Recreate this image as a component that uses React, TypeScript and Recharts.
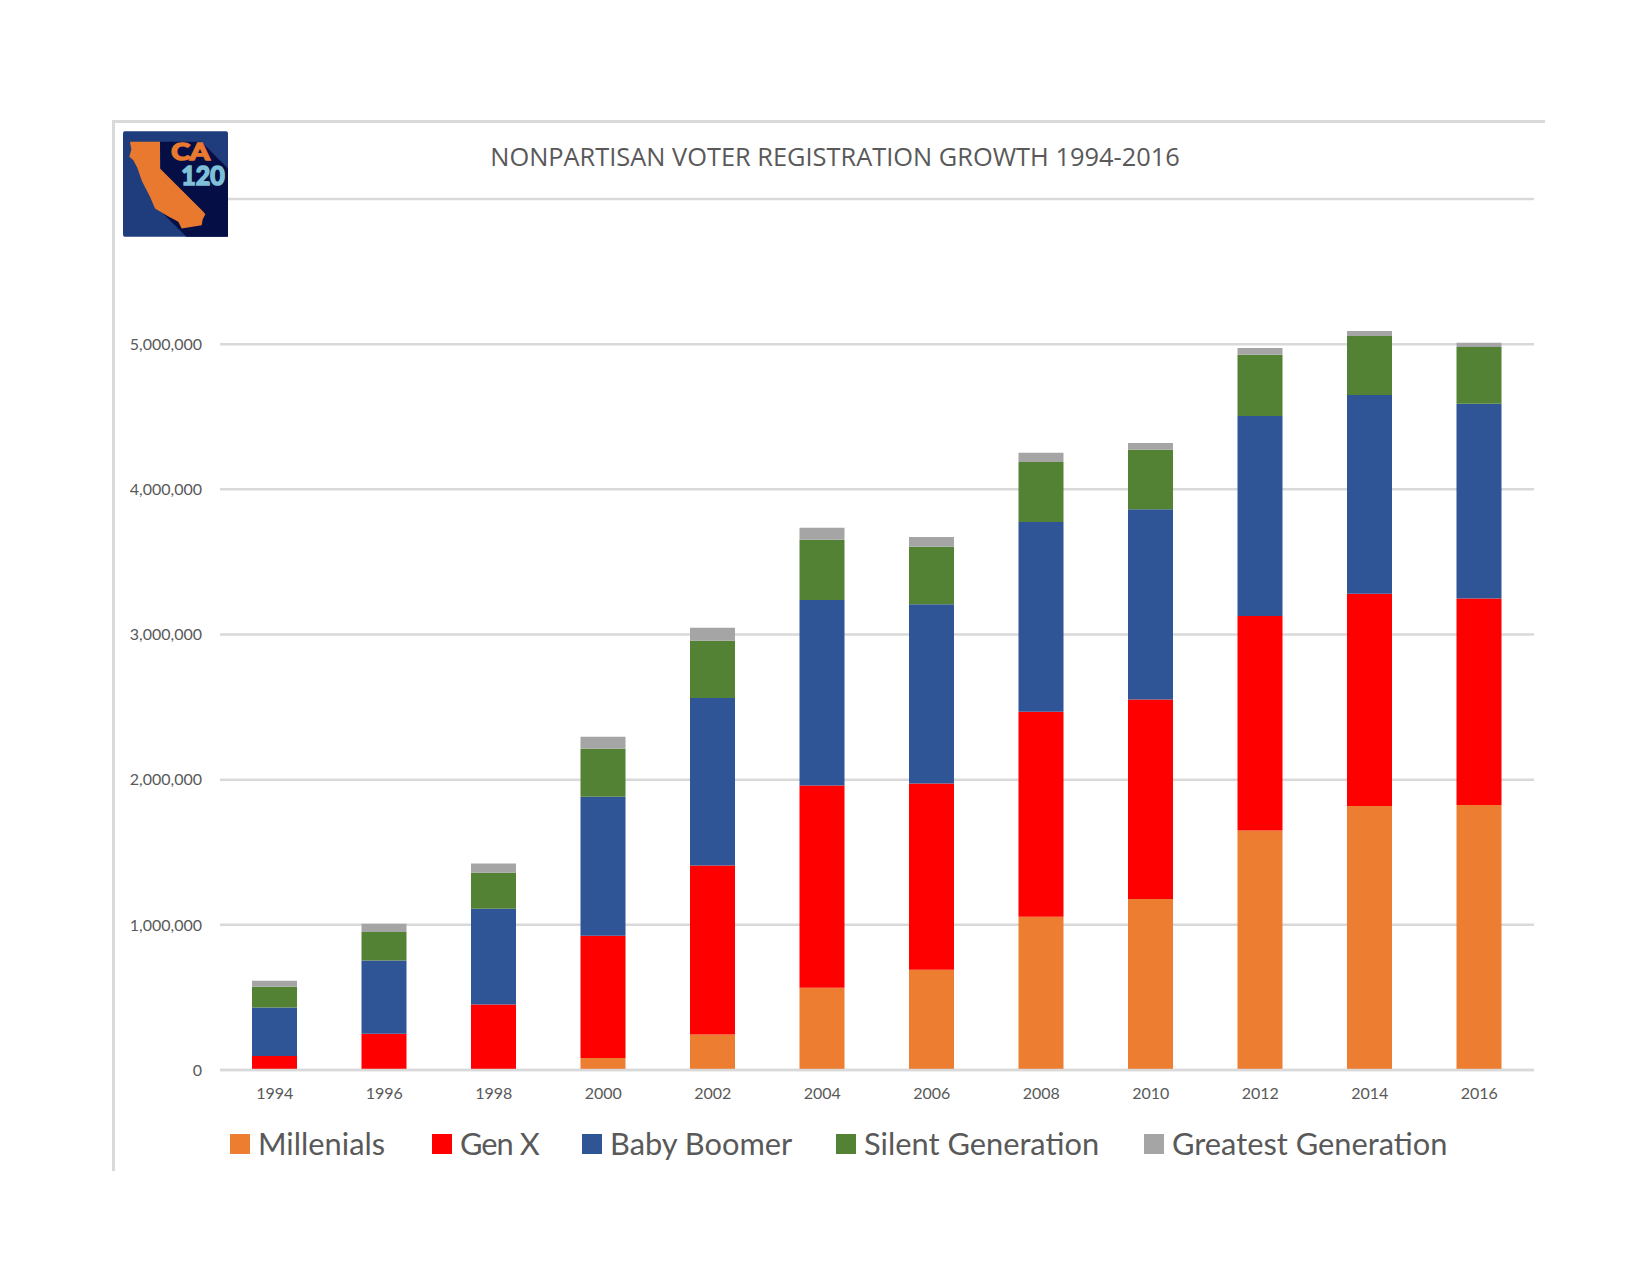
import React from "react";
import { BarChart, Bar, XAxis, YAxis, CartesianGrid, Legend } from "recharts";

const years = ["1994","1996","1998","2000","2002","2004","2006","2008","2010","2012","2014","2016"];
const millenials = [0,0,0,83000,244000,567000,691000,1055000,1178000,1649000,1819000,1826000];
const genX = [97000,250000,451000,842000,1165000,1392000,1282000,1412000,1375000,1478000,1462000,1422000];
const babyBoomer = [334000,504000,660000,958000,1154000,1279000,1235000,1308000,1309000,1379000,1369000,1341000];
const silentGeneration = [143000,197000,247000,330000,394000,414000,397000,414000,410000,421000,407000,391000];
const greatestGeneration = [40000,57000,64000,83000,90000,83000,67000,63000,47000,46000,33000,30000];
const yTicks = [0,1000000,2000000,3000000,4000000,5000000,6000000];
const chartTitle = "NONPARTISAN VOTER REGISTRATION GROWTH 1994-2016";

const rows = years.map((year, i) => ({
  year,
  Millenials: millenials[i],
  "Gen X": genX[i],
  "Baby Boomer": babyBoomer[i],
  "Silent Generation": silentGeneration[i],
  "Greatest Generation": greatestGeneration[i],
}));

const series = [
  { key: "Millenials", color: "#ED7D31", legendWidth: 202, tracking: 0 },
  { key: "Gen X", color: "#FF0000", legendWidth: 150, tracking: -1 },
  { key: "Baby Boomer", color: "#2F5597", legendWidth: 254, tracking: 0 },
  { key: "Silent Generation", color: "#548235", legendWidth: 308, tracking: 0 },
  { key: "Greatest Generation", color: "#A5A5A5", legendWidth: 310, tracking: 0 },
];

const GRID = "#D9D9D9";
const TEXT = "#595959";
const FONT = "Lato, sans-serif";

function LegendRow() {
  return (
    <div style={{ display: "flex", alignItems: "center", fontFamily: FONT, fontSize: 30.8, color: TEXT, lineHeight: "40px", whiteSpace: "nowrap" }}>
      {series.map((s) => (
        <div key={s.key} style={{ display: "flex", alignItems: "center", gap: 8, width: s.legendWidth, letterSpacing: s.tracking }}>
          <span style={{ display: "inline-block", width: 20, height: 20, background: s.color }} />
          <span>{s.key}</span>
        </div>
      ))}
    </div>
  );
}

function Logo() {
  return (
    <svg width={105} height={106} viewBox="15 15 315 317" style={{ position: "absolute", left: 123, top: 131 }}>
      <rect x={15} y={15} width={315} height={317} rx={6} fill="#1F3C7C" />
      <polygon points="126,47 250,47 330,127 330,332 205,332 130,257" fill="#060F45" />
      <polygon
        points="36,47 126,47 126,127 256,257 262,264 254,280 251,297 191,307 181,287 150,270 111,247 96,212 72,165 58,125 46,102 34,92 40,70"
        fill="#E8792F"
      />
      <text x={160} y={102} fontFamily="Lato, sans-serif" fontWeight={700} fontSize={70} fill="#E8792F" stroke="#E8792F" strokeWidth={5} textLength={115} lengthAdjust="spacingAndGlyphs">CA</text>
      <text x={190} y={178} fontFamily="Lato, sans-serif" fontWeight={700} fontSize={78} fill="#7FC0D8" stroke="#7FC0D8" strokeWidth={5} textLength={130} lengthAdjust="spacingAndGlyphs">120</text>
    </svg>
  );
}

export default function App() {
  return (
    <div style={{ position: "absolute", left: 0, top: 0, width: 1650, height: 1284, background: "#fff" }}>
      <div style={{ position: "absolute", left: 112, top: 120, width: 1433, height: 3, background: GRID }} />
      <div style={{ position: "absolute", left: 112, top: 120, width: 3, height: 1051, background: GRID }} />
      <BarChart
        width={1650}
        height={1284}
        data={rows}
        margin={{ top: 199, right: 116, left: 0, bottom: 134 }}
        barSize={45}
      >
        <CartesianGrid horizontal vertical={false} stroke={GRID} strokeWidth={2.5} />
        <XAxis
          dataKey="year"
          height={40}
          tickSize={0}
          tickMargin={18}
          axisLine={{ stroke: GRID, strokeWidth: 2.5 }}
          tick={{ fontFamily: FONT, fontSize: 16, fill: TEXT }}
          interval={0}
        />
        <YAxis
          width={220}
          domain={[0, 6000000]}
          ticks={yTicks}
          tickFormatter={(v: number) => (v === 6000000 ? "" : v.toLocaleString("en-US"))}
          tickSize={0}
          tickMargin={18}
          axisLine={false}
          tick={{ fontFamily: FONT, fontSize: 16, fill: TEXT }}
        />
        {series.map((s) => (
          <Bar key={s.key} dataKey={s.key} stackId="a" fill={s.color} isAnimationActive={false} />
        ))}
        <Legend
          height={40}
          content={<LegendRow />}
          wrapperStyle={{ position: "absolute", left: 230, top: 1124, width: "auto", bottom: "auto" }}
        />
        <text x={835} y={156} textAnchor="middle" dominantBaseline="central" fontFamily="'Open Sans', sans-serif" fontSize={25.4} fill={TEXT}>
          {chartTitle}
        </text>
      </BarChart>
      <Logo />
    </div>
  );
}
